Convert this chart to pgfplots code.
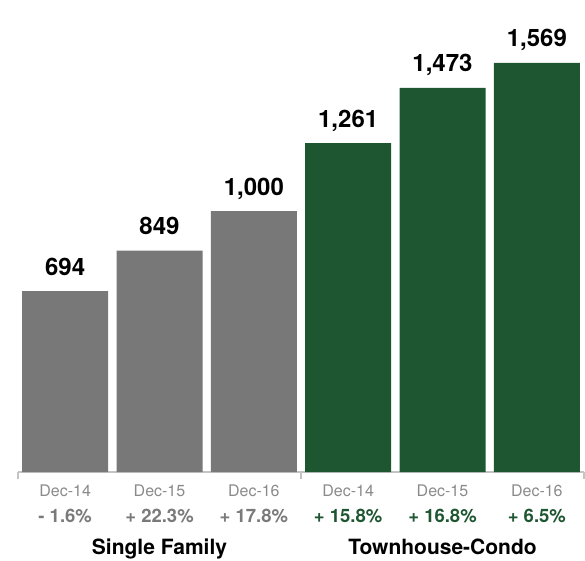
\documentclass[border=0pt]{standalone}
\usepackage{pgfplots}
\pgfplotsset{compat=1.18}
\usepackage{fontspec}
\setmainfont{TeX Gyre Heros}
\definecolor{bargray}{HTML}{787878}
\definecolor{bargreen}{HTML}{1E5631}
\definecolor{lblgray}{HTML}{8A8A8A}
\definecolor{pctgray}{HTML}{7A7A7A}
\definecolor{axgray}{HTML}{C4C4C4}
\begin{document}
\begin{tikzpicture}[x=1pt,y=1pt]
\useasboundingbox (0,0) rectangle (585,560);
\begin{axis}[
  at={(18pt,88pt)}, anchor=south west,
  scale only axis, width=566pt, height=472pt,
  xmin=-0.5, xmax=5.5, ymin=0, ymax=1810,
  ybar, bar width=86pt, bar shift=0pt,
  hide y axis,
  axis x line*=bottom,
  x axis line style={draw=axgray, line width=1.6pt, -},
  xtick={0,1,2,3,4,5},
  xticklabels={Dec-14,Dec-15,Dec-16,Dec-14,Dec-15,Dec-16},
  major tick length=0pt,
  xticklabel style={font=\fontsize{16}{18}\selectfont, text=lblgray, yshift=-9pt},
  clip=false,
  nodes near coords,
  every node near coord/.append style={font=\fontsize{24}{26}\selectfont\bfseries, text=black, anchor=base, yshift=16pt},
  /pgf/number format/.cd, 1000 sep={,}, assume math mode=true,
]
\addplot[fill=bargray, draw=none] coordinates {(0,694) (1,849) (2,1000)};
\addplot[fill=bargreen, draw=none] coordinates {(3,1261) (4,1473) (5,1569)};
\draw[axgray, line width=1.6pt] (axis cs:-0.5,0) -- ([yshift=-7pt]axis cs:-0.5,0);
\draw[axgray, line width=1.6pt] (axis cs:2.5,0) -- ([yshift=-7pt]axis cs:2.5,0);
\draw[axgray, line width=1.6pt] (axis cs:5.5,0) -- ([yshift=-7pt]axis cs:5.5,0);
\node[font=\fontsize{18.5}{20}\selectfont\bfseries, text=pctgray, anchor=base] at (axis cs:0,0) [yshift=-50pt] {- 1.6\%};
\node[font=\fontsize{18.5}{20}\selectfont\bfseries, text=pctgray, anchor=base] at (axis cs:1,0) [yshift=-50pt] {+ 22.3\%};
\node[font=\fontsize{18.5}{20}\selectfont\bfseries, text=pctgray, anchor=base] at (axis cs:2,0) [yshift=-50pt] {+ 17.8\%};
\node[font=\fontsize{18.5}{20}\selectfont\bfseries, text=bargreen, anchor=base] at (axis cs:3,0) [yshift=-50pt] {+ 15.8\%};
\node[font=\fontsize{18.5}{20}\selectfont\bfseries, text=bargreen, anchor=base] at (axis cs:4,0) [yshift=-50pt] {+ 16.8\%};
\node[font=\fontsize{18.5}{20}\selectfont\bfseries, text=bargreen, anchor=base] at (axis cs:5,0) [yshift=-50pt] {+ 6.5\%};
\node[font=\fontsize{21}{23}\selectfont\bfseries, text=black, anchor=base] at (axis cs:1,0) [yshift=-82pt] {Single Family};
\node[font=\fontsize{21}{23}\selectfont\bfseries, text=black, anchor=base] at (axis cs:4,0) [yshift=-82pt] {Townhouse-Condo};
\end{axis}
\end{tikzpicture}
\end{document}
